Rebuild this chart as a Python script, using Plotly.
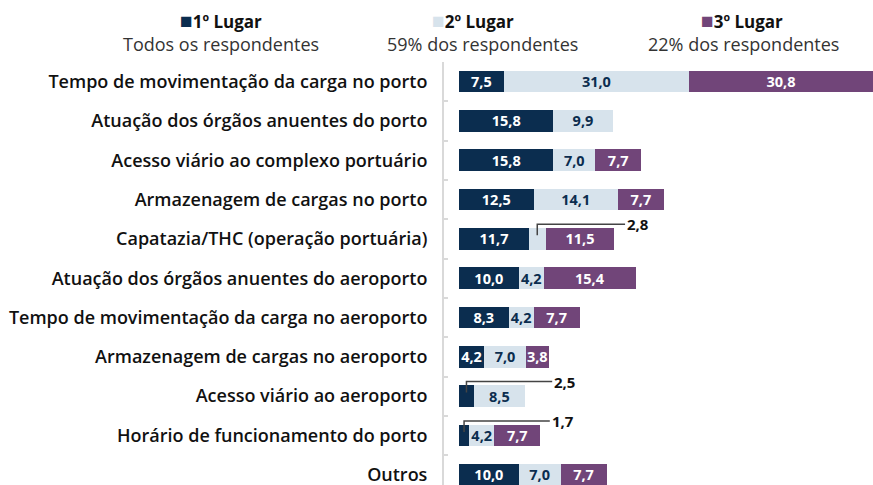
import plotly.graph_objects as go

categories = [
    "Tempo de movimentação da carga no porto",
    "Atuação dos órgãos anuentes do porto",
    "Acesso viário ao complexo portuário",
    "Armazenagem de cargas no porto",
    "Capatazia/THC (operação portuária)",
    "Atuação dos órgãos anuentes do aeroporto",
    "Tempo de movimentação da carga no aeroporto",
    "Armazenagem de cargas no aeroporto",
    "Acesso viário ao aeroporto",
    "Horário de funcionamento do porto",
    "Outros",
]
lugar1 = [7.5, 15.8, 15.8, 12.5, 11.7, 10.0, 8.3, 4.2, 2.5, 1.7, 10.0]
lugar2 = [31.0, 9.9, 7.0, 14.1, 2.8, 4.2, 4.2, 7.0, 8.5, 4.2, 7.0]
lugar3 = [30.8, 0.0, 7.7, 7.7, 11.5, 15.4, 7.7, 3.8, 0.0, 7.7, 7.7]

series_names = ["1º Lugar", "2º Lugar", "3º Lugar"]
series_sub = ["Todos os respondentes", "59% dos respondentes", "22% dos respondentes"]
colors = ["#0b2d4f", "#d7e3ec", "#714579"]
text_colors = ["#ffffff", "#0b2d4f", "#ffffff"]

MIN_INSIDE = 3.0  # values below this get an external leader label
FONT = "Open Sans"


def fmt(v):
    return f"{v:.1f}".replace(".", ",")


fig = go.Figure()
for vals, name, col, tcol in zip([lugar1, lugar2, lugar3], series_names, colors, text_colors):
    texts = [fmt(v) if v >= MIN_INSIDE else "" for v in vals]
    fig.add_trace(go.Bar(
        y=categories, x=vals, orientation="h", name=name,
        marker=dict(color=col, line=dict(width=0)),
        text=texts, textposition="inside", insidetextanchor="middle",
        textangle=0,
        textfont=dict(color=tcol, size=14.5, family=FONT, weight="bold"),
        hoverinfo="skip", showlegend=False,
    ))

# leader lines for small values
small = []
stacks = [lugar1, lugar2, lugar3]
for s, vals in enumerate(stacks):
    for i, v in enumerate(vals):
        if 0 < v < MIN_INSIDE:
            small.append((s, i, v))
leader_end = [15.6, 15.2, 27.8]  # horizontal end of leader, in x units (styling)
for k, (s, i, v) in enumerate(small):
    start = sum(stacks[j][i] for j in range(s))
    cx = start + v / 2
    y0 = i - 0.09
    y1 = i - 0.37
    xend = leader_end[k]
    fig.add_shape(type="path",
                  path=f"M {cx} {y0} L {cx} {y1} L {xend} {y1}",
                  xref="x", yref="y", line=dict(color="#444444", width=1.5))
    fig.add_annotation(x=xend, y=y1, xref="x", yref="y", text=fmt(v),
                       showarrow=False, xanchor="left", yanchor="middle", xshift=0,
                       font=dict(size=15, color="#111111", family=FONT, weight="bold"))

W, H = 873, 485
mt, mb, ml, mr = 62, 0, 444, 0
ph = H - mt - mb
pw = W - ml - mr

# legend headers (pixel positions converted to paper coords)
for name, col, lx in zip(series_names, colors, [221, 473, 742]):
    fig.add_annotation(x=(lx - ml) / pw, y=(H - mb - 20) / ph, xref="paper", yref="paper",
                       yanchor="middle", xanchor="center",
                       text=f'<span style="color:{col};font-size:21px">■</span><b>{name}</b>',
                       showarrow=False,
                       font=dict(size=17, color="#111111", family=FONT))
for sub, lx in zip(series_sub, [221, 482, 743]):
    fig.add_annotation(x=(lx - ml) / pw, y=(H - mb - 44) / ph, xref="paper", yref="paper",
                       yanchor="middle", xanchor="center",
                       text=sub, showarrow=False,
                       font=dict(size=18, color="#333333", family=FONT))

fig.update_layout(
    width=W, height=H,
    margin=dict(l=ml, r=mr, t=mt, b=mb),
    barmode="stack", bargap=0.45,
    plot_bgcolor="white", paper_bgcolor="white",
    font=dict(family=FONT),
    uniformtext=dict(minsize=14.5, mode="show"),
    xaxis=dict(range=[-2.51, 69.3], visible=False, fixedrange=True),
    yaxis=dict(
        range=[10.26, -0.5], showline=True, linecolor="#d9d9d9", linewidth=2,
        ticks="inside", tickson="boundaries", ticklen=4, tickcolor="#d9d9d9", tickwidth=2,
        tickfont=dict(size=18, color="#111111", family=FONT, weight=600),
        ticklabelstandoff=11, showgrid=False, fixedrange=True,
    ),
)

fig.write_html("out.html", config={"displayModeBar": False},
               post_script="document.body.style.margin='0';")
